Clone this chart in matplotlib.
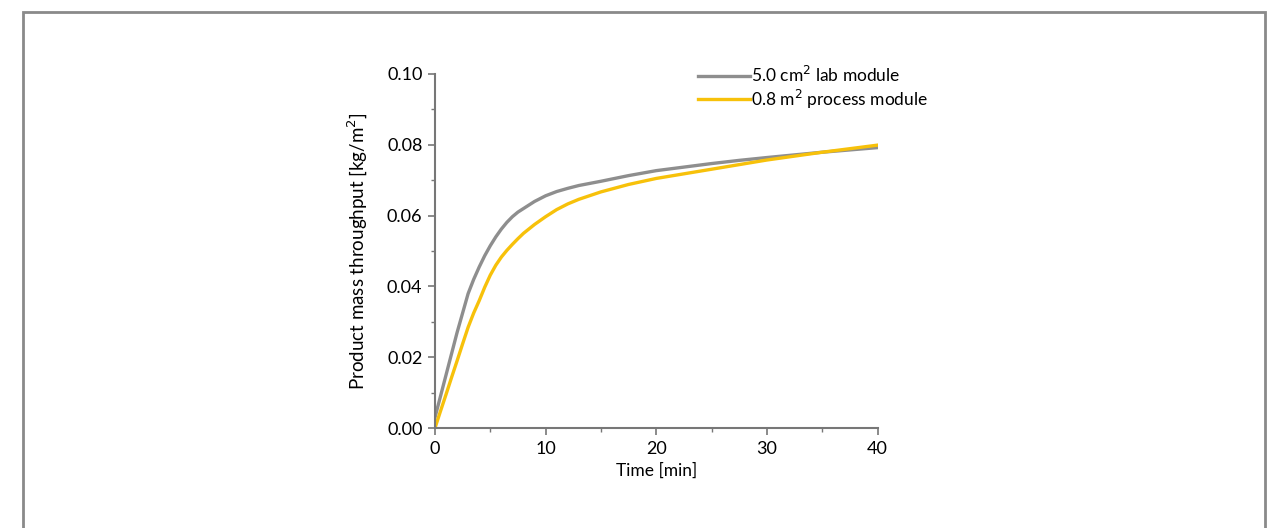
import matplotlib
matplotlib.use("Agg")
import matplotlib.pyplot as plt
from matplotlib.patches import Rectangle
from matplotlib.ticker import MultipleLocator

plt.rcParams['font.family'] = ['Lato', 'DejaVu Sans']

time_lab = [0, 0.5, 1, 1.5, 2, 2.5, 3, 3.5, 4, 4.5, 5, 5.5, 6, 6.5, 7, 7.5, 8, 9, 10,
            11, 12, 13, 15, 17.5, 20, 22.5, 25, 27.5, 30, 35, 40]
lab = [0.003, 0.009, 0.015, 0.021, 0.027, 0.0325, 0.038, 0.042, 0.0455, 0.0487, 0.0515,
       0.054, 0.0562, 0.0581, 0.0597, 0.061, 0.062, 0.064, 0.0656, 0.0668, 0.0677, 0.0685,
       0.0697, 0.0713, 0.0727, 0.0737, 0.0747, 0.0756, 0.0764, 0.0779, 0.0792]
time_proc = [0, 0.5, 1, 1.5, 2, 2.5, 3, 3.5, 4, 4.5, 5, 5.5, 6, 6.5, 7, 7.5, 8, 9, 10,
             11, 12, 13, 15, 17.5, 20, 22.5, 25, 27.5, 30, 35, 40]
proc = [0.0, 0.0048, 0.0095, 0.0143, 0.019, 0.0238, 0.0285, 0.0325, 0.036, 0.0398, 0.0432,
        0.046, 0.0483, 0.0502, 0.0519, 0.0535, 0.055, 0.0575, 0.0597, 0.0617, 0.0633, 0.0646,
        0.0667, 0.0688, 0.0705, 0.0718, 0.0731, 0.0744, 0.0757, 0.0779, 0.0799]

labels = ["5.0 cm$^2$ lab module", "0.8 m$^2$ process module"]
colors = ["#8e8e8e", "#f7c10a"]

fig = plt.figure(figsize=(12.83, 5.28), dpi=100)
ax = fig.add_axes([0.339, 0.189, 0.345, 0.671])

ax.plot(time_lab, lab, color=colors[0], lw=2.4, label=labels[0])
ax.plot(time_proc, proc, color=colors[1], lw=2.4, label=labels[1])

ax.set_xlim(0, 40)
ax.set_ylim(0, 0.10)
ax.xaxis.set_major_locator(MultipleLocator(10))
ax.xaxis.set_minor_locator(MultipleLocator(5))
ax.yaxis.set_major_locator(MultipleLocator(0.02))
ax.yaxis.set_minor_locator(MultipleLocator(0.01))
ax.yaxis.set_major_formatter(plt.FormatStrFormatter('%.2f'))

for s in ['top', 'right']:
    ax.spines[s].set_visible(False)
for s in ['left', 'bottom']:
    ax.spines[s].set_color('#777777')
    ax.spines[s].set_linewidth(1.5)
ax.tick_params(which='major', length=5, width=1.2, color='#777777', labelsize=13, pad=4)
ax.tick_params(which='minor', length=3, width=1, color='#777777')

ax.set_xlabel("Time [min]", fontsize=12.5, labelpad=4)
ax.set_ylabel("Product mass throughput [kg/m$^2$]", fontsize=13.5, labelpad=12)

ax.legend(loc='upper right', bbox_to_anchor=(1.15, 1.07), frameon=False, fontsize=12.5,
          handlelength=3.0, handletextpad=0.1, labelspacing=0.15)

fig.patches.append(Rectangle((23 / 1283, -0.05), (1265 - 23) / 1283, 1.05 - 12 / 528,
                             transform=fig.transFigure, fill=False, edgecolor='#8a8a8a',
                             lw=2, figure=fig))

fig.savefig("out.png", dpi=100)
